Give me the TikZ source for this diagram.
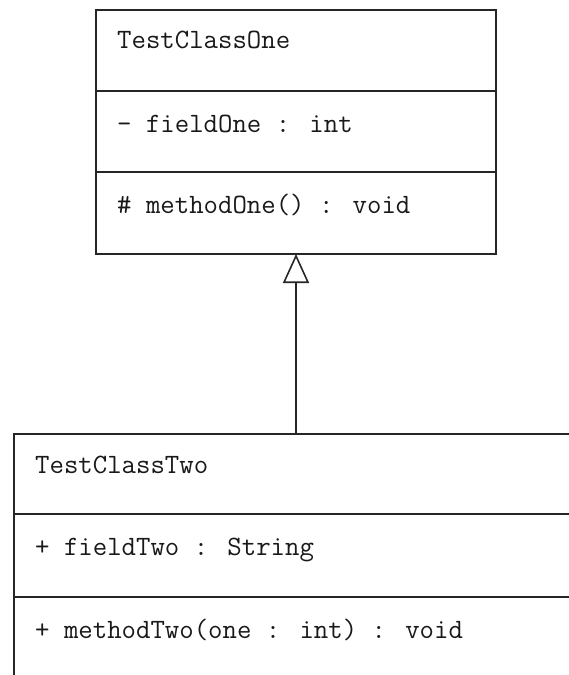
\documentclass[tikz,border=0pt]{standalone}
\usepackage{fontspec}
\usetikzlibrary{arrows.meta,calc}
\begin{document}
\begin{tikzpicture}[x=1pt,y=-1pt,
  boxline/.style={line width=1.6pt, draw=black!85},
  classbox/.style={boxline, anchor=north west, inner sep=0pt, outer sep=0pt},
  member/.style={anchor=base west, inner sep=0pt, font=\ttfamily\fontsize{28}{32}\selectfont\addfontfeatures{LetterSpace=3.9,FakeBold=0.8}, text=black!90},
  inherit/.style={boxline, -{Triangle[open, length=29pt, width=26pt, line width=1.6pt]}}
]
\useasboundingbox (0,0) rectangle (569,675);
% top class
\node[classbox, minimum width=400pt, minimum height=244pt] (one) at (96,10) {};
\draw[boxline] (96,91) -- (496,91);
\draw[boxline] (96,172) -- (496,172);
\node[member] (oneName) at (117,48) {TestClassOne};
\node[member] (oneField) at (117,132) {- fieldOne : int};
\node[member] (oneMethod) at (117,213) {\# methodOne() : void};
% bottom class
\node[classbox, minimum width=600pt, minimum height=300pt] (two) at (14,434) {};
\draw[boxline] (14,514) -- (614,514);
\draw[boxline] (14,597) -- (614,597);
\node[member] (twoName) at (35,473) {TestClassTwo};
\node[member] (twoField) at (35,555) {+ fieldTwo : String};
\node[member] (twoMethod) at (35,638) {+ methodTwo(one : int) : void};
% generalization
\coordinate (gen) at (one.south |- two.north);
\draw[inherit] (gen) -- (one.south);
\end{tikzpicture}
\end{document}
